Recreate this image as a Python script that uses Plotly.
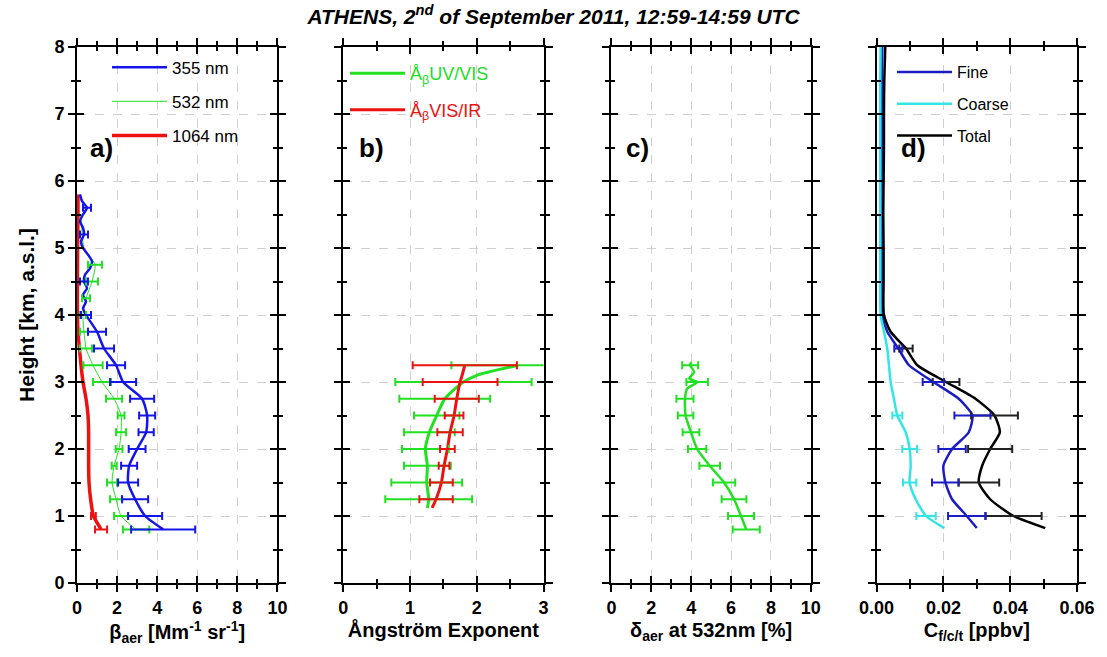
import plotly.graph_objects as go

# ---------------- data ----------------
# a) backscatter coefficient [Mm-1 sr-1]
H_355 = [0.8, 1.0, 1.25, 1.5, 1.75, 2.0, 2.25, 2.5, 2.75, 3.0, 3.25, 3.5, 3.75, 4.0,
         4.1, 4.2, 4.3, 4.4, 4.5, 4.6, 4.7, 4.8, 4.9, 5.0, 5.1, 5.2, 5.3, 5.4, 5.5, 5.6, 5.7, 5.8]
B_355 = [4.3, 3.4, 2.9, 2.55, 2.6, 3.0, 3.45, 3.5, 3.25, 2.3, 1.95, 1.35, 1.0, 0.45,
         0.3, 0.45, 0.3, 0.5, 0.35, 0.4, 0.65, 0.75, 0.55, 0.3, 0.2, 0.35, 0.3, 0.15, 0.3, 0.5, 0.25, 0.15]
E_355 = [1.6, 0.85, 0.65, 0.5, 0.4, 0.42, 0.38, 0.4, 0.6, 0.65, 0.45, 0.5, 0.45, 0.25,
         None, None, None, None, 0.2, None, None, None, None, None, None, 0.2, None, None, None, 0.2, None, None]

H_532 = [0.8, 1.0, 1.25, 1.5, 1.75, 2.0, 2.25, 2.5, 2.75, 3.0, 3.25, 3.5, 3.75, 4.0,
         4.25, 4.5, 4.75, 5.0, 5.25, 5.5]
B_532 = [2.95, 2.2, 1.95, 1.75, 1.85, 2.1, 2.2, 2.2, 1.85, 1.25, 0.8, 0.45, 0.35, 0.3,
         0.45, 0.75, 0.9, 0.35, 0.25, 0.2]
E_532 = [0.66, 0.35, 0.3, 0.25, 0.12, 0.17, 0.25, 0.17, 0.4, 0.45, 0.48, 0.3, 0.2, 0.15,
         0.2, 0.3, 0.35, None, None, None]

H_1064 = [0.8, 0.9, 1.0, 1.25, 1.5, 1.75, 2.0, 2.25, 2.5, 2.75, 3.0, 3.25, 3.5, 3.75,
          4.0, 4.5, 5.0, 5.5, 5.8]
B_1064 = [1.2, 1.0, 0.82, 0.68, 0.6, 0.58, 0.58, 0.58, 0.55, 0.45, 0.3, 0.2, 0.12, 0.05,
          0.02, 0.02, 0.03, 0.05, 0.05]
E_1064 = [0.3, None, 0.12, None, None, None, None, None, None, None, None, None, None, None,
          None, None, None, None, None]

# b) Angstrom exponents
H_ANG = [1.12, 1.25, 1.5, 1.75, 2.0, 2.25, 2.5, 2.75, 3.0, 3.1, 3.25]
A_UVVIS = [1.26, 1.28, 1.25, 1.26, 1.23, 1.29, 1.4, 1.52, 1.8, 2.0, 2.62]
E_UVVIS = [None, 0.65, 0.53, 0.35, 0.35, 0.38, 0.34, 0.68, 1.02, None, 1.0]
A_VISIR = [1.33, 1.39, 1.47, 1.51, 1.56, 1.6, 1.66, 1.7, 1.75, 1.78, 1.82]
E_VISIR = [None, 0.25, 0.17, 0.08, 0.11, 0.19, 0.14, 0.33, 0.56, None, 0.78]

# c) particle depolarization ratio [%]
H_DEP = [0.8, 1.0, 1.25, 1.5, 1.75, 2.0, 2.25, 2.5, 2.75, 2.9, 3.0, 3.05, 3.15, 3.25, 3.3]
DEP = [6.76, 6.5, 6.15, 5.65, 4.93, 4.3, 3.99, 3.72, 3.69, 3.8, 4.3, 3.9, 4.15, 3.95, 4.0]
E_DEP = [0.68, 0.65, 0.62, 0.56, 0.52, 0.46, 0.42, 0.39, 0.43, None, 0.54, None, None, 0.4, None]

# d) concentrations [ppbv]
H_C = [0.82, 1.0, 1.25, 1.5, 1.75, 2.0, 2.25, 2.5, 2.75, 3.0, 3.25, 3.5, 3.75, 4.0,
       4.5, 5.0, 5.5, 6.0, 6.5, 7.0, 7.5, 8.0]
C_FINE = [0.030, 0.027, 0.0226, 0.0206, 0.020, 0.0226, 0.0276, 0.0287, 0.0246, 0.017, 0.0097, 0.0065, 0.0032, 0.0017,
          0.0015, 0.0015, 0.0015, 0.0015, 0.0016, 0.0016, 0.0016, 0.0017]
E_FINE = [None, 0.0056, None, 0.004, None, 0.0041, None, 0.0054, None, 0.0032, None, 0.0012, None, None,
          None, None, None, None, None, None, None, None]
C_COARSE = [0.0203, 0.0148, 0.0117, 0.0099, 0.0102, 0.0099, 0.0087, 0.0062, 0.0052, 0.0042, 0.0037, 0.0032, 0.0022, 0.0012,
            0.0011, 0.0011, 0.0011, 0.0011, 0.0011, 0.0011, 0.0011, 0.0012]
E_COARSE = [None, 0.0029, None, 0.002, None, 0.0022, None, 0.0015, None, None, None, None, None, None,
            None, None, None, None, None, None, None, None]
C_TOTAL = [0.0505, 0.041, 0.034, 0.0306, 0.0316, 0.034, 0.0369, 0.0353, 0.0296, 0.0208, 0.0122, 0.0088, 0.0042, 0.0022,
           0.0021, 0.0021, 0.0020, 0.0021, 0.0022, 0.0022, 0.0023, 0.0026]
E_TOTAL = [None, 0.0084, None, 0.0061, None, 0.0066, None, 0.007, None, 0.004, None, 0.002, None, None,
           None, None, None, None, None, None, None, None]

X_TITLES = ["β<sub>aer</sub> [Mm<sup>-1</sup> sr<sup>-1</sup>]", "Ångström Exponent",
            "δ<sub>aer</sub> at 532nm [%]", "C<sub>f/c/t</sub> [ppbv]"]
X_RANGES = [[0, 10], [0, 3], [0, 10], [0, 0.06]]
X_DTICK = [2, 1, 2, 0.02]
X_MINOR = [1, 0.5, 1, 0.01]
PANEL_LABELS = ["a)", "b)", "c)", "d)"]
PANEL_LABEL_X = [0.55, 0.2, 0.65, 0.0068]

# ---------------- figure ----------------
W, HT = 1107, 657
ML, MR, MT, MB = 77, 27, 47, 74
PW = W - ML - MR
panel_px = [(77, 278), (344, 545), (613, 813), (879, 1080)]
domains = [[(a - ML) / PW, (b - ML) / PW] for a, b in panel_px]

FONT = "Liberation Sans Narrow, Arial Narrow, Liberation Sans, Arial, sans-serif"
FONT2 = "Liberation Sans, Arial, sans-serif"

fig = go.Figure()


def line(h, v, color, width, name, panel, legend, show=True, rank=1000):
    fig.add_trace(go.Scatter(
        x=v, y=h, mode="lines", line=dict(color=color, width=width, shape="spline", smoothing=0.6),
        name=name, legendgroup=name, showlegend=show, legend=legend, legendrank=rank,
        xaxis=f"x{panel}", yaxis=f"y{panel}", hoverinfo="skip"))


def errs(h, v, e, color, panel, thick=2, capw=4):
    hh = [a for a, c in zip(h, e) if c is not None]
    vv = [b for b, c in zip(v, e) if c is not None]
    ee = [c for c in e if c is not None]
    fig.add_trace(go.Scatter(
        x=vv, y=hh, mode="markers", marker=dict(size=1, color=color),
        error_x=dict(type="data", array=ee, color=color, thickness=thick, width=capw, visible=True),
        showlegend=False, xaxis=f"x{panel + 4}", yaxis=f"y{panel + 4}", hoverinfo="skip"))


BLUE, GREEN, RED = "#1515e8", "#22e022", "#ee1111"

# panel a
line(H_1064, B_1064, RED, 3.5, "1064 nm", 1, "legend", rank=3)
line(H_532, B_532, GREEN, 1, "532 nm", 1, "legend", rank=2)
line(H_355, B_355, BLUE, 2.5, "355 nm", 1, "legend", rank=1)
errs(H_532, B_532, E_532, GREEN, 1)
errs(H_355, B_355, E_355, BLUE, 1)
errs(H_1064, B_1064, E_1064, RED, 1)

# panel b
line(H_ANG, A_UVVIS, GREEN, 3, "<span style='color:#22dd22'>Å<sub>β</sub>UV/VIS</span>", 2, "legend2", rank=1)
line(H_ANG, A_VISIR, RED, 3, "<span style='color:#ee1111'>Å<sub>β</sub>VIS/IR</span>", 2, "legend2", rank=2)
errs(H_ANG, A_UVVIS, E_UVVIS, GREEN, 2)
errs(H_ANG, A_VISIR, E_VISIR, RED, 2)

# panel c
line(H_DEP, DEP, GREEN, 2.5, "δ", 3, "legend", show=False)
errs(H_DEP, DEP, E_DEP, GREEN, 3)

# panel d
FINE_C, COARSE_C = "#1c1cc4", "#33e5e5"
line(H_C, C_FINE, FINE_C, 2.5, "Fine", 4, "legend3", rank=1)
line(H_C, C_COARSE, COARSE_C, 2.5, "Coarse", 4, "legend3", rank=2)
line(H_C, C_TOTAL, "black", 2.5, "Total", 4, "legend3", rank=3)
errs(H_C, C_TOTAL, E_TOTAL, "#222222", 4)
errs(H_C, C_FINE, E_FINE, FINE_C, 4)
errs(H_C, C_COARSE, E_COARSE, COARSE_C, 4)

layout = dict(
    width=W, height=HT, margin=dict(l=ML, r=MR, t=MT, b=MB),
    paper_bgcolor="white", plot_bgcolor="white",
    font=dict(family=FONT, color="black"),
    title=dict(text="ATHENS, 2<sup>nd</sup> of September 2011, 12:59-14:59 UTC",
               x=0.5, xref="container", y=0.975, yref="container", yanchor="middle",
               font=dict(family=FONT, size=21, weight="bold", style="italic")),
)

for i in range(1, 5):
    dom = domains[i - 1]
    common_x = dict(range=X_RANGES[i - 1], dtick=X_DTICK[i - 1], tick0=0, zeroline=False)
    layout[f"xaxis{i}"] = dict(
        domain=dom, anchor=f"y{i}", **common_x,
        showline=True, linewidth=2, linecolor="black", mirror="ticks",
        ticks="outside", ticklen=7, tickwidth=2, tickcolor="black",
        minor=dict(dtick=X_MINOR[i - 1], ticks="outside", ticklen=4, tickwidth=2, tickcolor="black", showgrid=False),
        showgrid=True, gridcolor="#cfcfcf", griddash="dash", gridwidth=1,
        tickfont=dict(family=FONT, size=18, weight="bold"),
        tickformat=".2f" if i == 4 else None,
        title=dict(text=X_TITLES[i - 1], font=dict(family=FONT2, size=20, weight="bold"), standoff=6),
    )
    ydict = dict(
        domain=[0, 1], anchor=f"x{i}", range=[0, 8], dtick=1, tick0=0, zeroline=False,
        showline=True, linewidth=2, linecolor="black", mirror="ticks",
        ticks="outside", ticklen=7, tickwidth=2, tickcolor="black",
        minor=dict(dtick=0.5, ticks="outside", ticklen=4, tickwidth=2, tickcolor="black", showgrid=False),
        showgrid=True, gridcolor="#cfcfcf", griddash="dash", gridwidth=1,
        showticklabels=(i == 1),
        tickfont=dict(family=FONT, size=18, weight="bold"),
    )
    if i == 1:
        ydict["title"] = dict(text="Height [km, a.s.l.]", font=dict(family=FONT2, size=21, weight="bold"),
                              standoff=14)
    layout[f"yaxis{i}"] = ydict
    layout[f"xaxis{i + 4}"] = dict(
        overlaying=f"x{i}", anchor=f"y{i + 4}", side="bottom", **common_x,
        showline=False, mirror="ticks", ticks="inside", ticklen=7, tickwidth=2, tickcolor="black",
        minor=dict(dtick=X_MINOR[i - 1], ticks="inside", ticklen=4, tickwidth=2, tickcolor="black", showgrid=False),
        showgrid=False, showticklabels=False,
    )
    layout[f"yaxis{i + 4}"] = dict(
        overlaying=f"y{i}", anchor=f"x{i + 4}", side="left", range=[0, 8], dtick=1, tick0=0, zeroline=False,
        showline=False, mirror="ticks", ticks="inside", ticklen=7, tickwidth=2, tickcolor="black",
        minor=dict(dtick=0.5, ticks="inside", ticklen=4, tickwidth=2, tickcolor="black", showgrid=False),
        showgrid=False, showticklabels=False,
    )

layout["legend"] = dict(x=0.03, y=0.995, xanchor="left", yanchor="top", bgcolor="rgba(0,0,0,0)",
                        traceorder="grouped", tracegroupgap=9, itemwidth=55,
                        font=dict(family=FONT2, size=17))
layout["legend2"] = dict(x=0.268, y=0.985, xanchor="left", yanchor="top", bgcolor="rgba(0,0,0,0)",
                         traceorder="grouped", tracegroupgap=10, itemwidth=55,
                         font=dict(family=FONT2, size=18))
layout["legend3"] = dict(x=0.815, y=0.985, xanchor="left", yanchor="top", bgcolor="rgba(0,0,0,0)",
                         traceorder="grouped", tracegroupgap=8, itemwidth=55,
                         font=dict(family=FONT2, size=16))

fig.update_layout(**layout)

for i in range(1, 5):
    fig.add_annotation(text=f"<b>{PANEL_LABELS[i - 1]}</b>", x=PANEL_LABEL_X[i - 1], y=6.5,
                       xref=f"x{i}", yref=f"y{i}", xanchor="left", yanchor="middle", showarrow=False,
                       font=dict(family=FONT2, size=26, color="black"))

fig.write_html("out.html")
